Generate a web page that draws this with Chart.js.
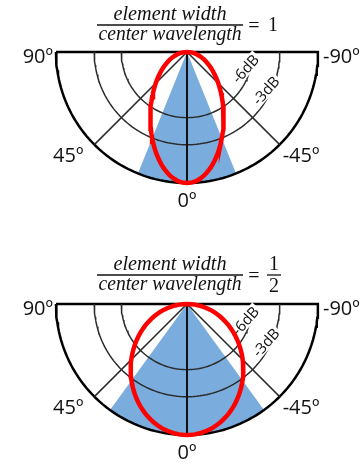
<!DOCTYPE html>
<html>
<head>
<meta charset="utf-8">
<script src="https://cdn.jsdelivr.net/npm/chart.js@4.4.0/dist/chart.umd.min.js"></script>
<style>
  html, body { margin: 0; padding: 0; background: #fff; }
  canvas { display: block; }
</style>
</head>
<body>
<canvas id="chartTop" width="360" height="232"></canvas>
<canvas id="chartBottom" width="360" height="232"></canvas>
<script>
// angle labels around the half circle (0º points down)
const angleLabels = ['90º', '45º', '0º', '-45º', '-90º'];
const labelAngles = [90, 45, 0, -45, -90];
const spokeAngles = [0, 45, -45];
// inner rings in dB (outer ring is 0 dB)
const ringLevelsDb = [-3, -6];
const ringLabels = ['-3dB', '-6dB'];
// one panel per element width / center wavelength ratio
const ratioNum = ['1', '1'];
const ratioDen = ['', '2'];
const beamHalfAngles = [22, 36];     // blue sector, degrees each side of 0º
const lobeHalfWidths = [0.28, 0.43]; // red lobe half width, share of outer radius

// panel layout, in pixels
const W = 360, H = 232, R = 131, CX = 187;
const panelCY = [52, 72];

const rad = d => d * Math.PI / 180;
const polar = (r, deg) => ({ x: -r * Math.sin(rad(deg)), y: -r * Math.cos(rad(deg)) });
const arcPoints = (r, from, to) => {
  const pts = [];
  const step = from > to ? -2 : 2;
  for (let a = from; step < 0 ? a >= to : a <= to; a += step) pts.push(polar(r, a));
  return pts;
};
const dbToRadius = db => Math.pow(10, db / 20);

const line = (data, color, width) => ({
  data, borderColor: color, borderWidth: width, pointRadius: 0, fill: false, tension: 0
});

const drawRingLabels = chart => {
  const { ctx, scales: { x, y } } = chart;
  const cx = x.getPixelForValue(0), cy = y.getPixelForValue(0);
  const r = x.getPixelForValue(1) - cx;
  const ringLabelAngles = [-64, -74];
  ctx.save();
  ctx.font = '15px "Open Sans"';
  ctx.textAlign = 'center';
  ctx.textBaseline = 'middle';
  ringLevelsDb.forEach((db, k) => {
    const rr = dbToRadius(db) * r - 5;
    const a = rad(ringLabelAngles[k]);
    const px = cx - rr * Math.sin(a), py = cy + rr * Math.cos(a);
    ctx.save();
    ctx.translate(px, py);
    ctx.rotate(rad(-48));
    const w = ctx.measureText(ringLabels[k]).width;
    ctx.fillStyle = '#fff';
    ctx.fillRect(-w / 2 - 2, -7, w + 4, 14);
    ctx.fillStyle = '#111';
    ctx.fillText(ringLabels[k], 0, 1);
    ctx.restore();
  });
  ctx.restore();
};

const panelText = {
  id: 'panelText',
  // ring labels go under the red lobe (dataset 0 is drawn last)
  afterDatasetDraw(chart, args) {
    if (args.index === 1) drawRingLabels(chart);
  },
  afterDraw(chart) {
    const i = chart.options.plugins.panelText.index;
    const { ctx, scales: { x, y } } = chart;
    const cx = x.getPixelForValue(0), cy = y.getPixelForValue(0);
    const r = x.getPixelForValue(1) - cx;
    ctx.save();

    // angle labels
    ctx.font = '20px "Open Sans"';
    ctx.fillStyle = '#111';
    ctx.textBaseline = 'alphabetic';
    labelAngles.forEach((deg, k) => {
      const px = cx - r * Math.sin(rad(deg)), py = cy + r * Math.cos(rad(deg));
      if (deg === 0) { ctx.textAlign = 'center'; ctx.fillText(angleLabels[k], px, py + 24); }
      else if (deg === 90) { ctx.textAlign = 'right'; ctx.fillText(angleLabels[k], px - 3, py + 11); }
      else if (deg === -90) { ctx.textAlign = 'left'; ctx.fillText(angleLabels[k], px + 5, py + 11); }
      else if (deg > 0) { ctx.textAlign = 'right'; ctx.fillText(angleLabels[k], px - 11, py + 17); }
      else { ctx.textAlign = 'left'; ctx.fillText(angleLabels[k], px + 3, py + 17); }
    });

    // title fraction
    const ly = cy - (i === 0 ? 27 : 29);
    ctx.strokeStyle = '#111';
    ctx.lineWidth = 1.3;
    ctx.beginPath();
    ctx.moveTo(cx - 90, ly); ctx.lineTo(cx + 56, ly);
    ctx.stroke();
    const fitText = (txt, mid, base, target) => {
      ctx.save();
      const w = ctx.measureText(txt).width;
      ctx.translate(mid, base);
      ctx.scale(target / w, 1);
      ctx.textAlign = 'center';
      ctx.fillText(txt, 0, 0);
      ctx.restore();
    };
    ctx.font = 'italic 20px "Liberation Serif"';
    fitText('element width', cx - 17, ly - 5, 113);
    fitText('center wavelength', cx - 17, ly + 15, 143);
    ctx.font = '20px "Liberation Serif"';
    ctx.textAlign = 'center';
    ctx.textBaseline = 'middle';
    ctx.fillText('=', cx + 67, ly + 2);
    if (ratioDen[i]) {
      ctx.fillText(ratioNum[i], cx + 87, ly - 10);
      ctx.fillText(ratioDen[i], cx + 87, ly + 12);
      ctx.beginPath();
      ctx.moveTo(cx + 80, ly); ctx.lineTo(cx + 94, ly);
      ctx.stroke();
    } else {
      ctx.fillText(ratioNum[i], cx + 86, ly + 1);
    }
    ctx.restore();
  }
};

const makePanel = (canvasId, i) => {
  const cy = panelCY[i];
  const lobe = [];
  for (let t = 0; t <= 360; t += 4) {
    lobe.push({ x: lobeHalfWidths[i] * Math.sin(rad(t)), y: -0.5 + 0.5 * Math.cos(rad(t)) });
  }
  const beam = [{ x: 0, y: 0 }, ...arcPoints(1, beamHalfAngles[i], -beamHalfAngles[i]), { x: 0, y: 0 }];
  const outer = [...arcPoints(1, 90, -90), polar(1, 90)];

  const datasets = [
    line(lobe, '#ff0000', 4.5),
    line([{ x: 0, y: 0 }, polar(1, spokeAngles[0])], '#111', 2),
    ...spokeAngles.slice(1).map(a => line([{ x: 0, y: 0 }, polar(1, a)], '#2b2b2b', 1.5)),
    ...ringLevelsDb.map(db => line(arcPoints(dbToRadius(db), 90, -90), '#2b2b2b', 1.5)),
    line(outer, '#000', 2.5),
    { ...line(beam, 'rgba(0,0,0,0)', 0), fill: 'shape', backgroundColor: '#7aaddd' }
  ];

  new Chart(document.getElementById(canvasId), {
    type: 'line',
    data: { datasets },
    options: {
      responsive: false,
      animation: false,
      layout: { padding: 0 },
      scales: {
        x: { type: 'linear', display: false, min: -CX / R, max: (W - CX) / R },
        y: { type: 'linear', display: false, min: -(H - cy) / R, max: cy / R }
      },
      plugins: {
        legend: { display: false },
        tooltip: { enabled: false },
        panelText: { index: i }
      }
    },
    plugins: [panelText]
  });
};

makePanel('chartTop', 0);
makePanel('chartBottom', 1);
</script>
</body>
</html>
